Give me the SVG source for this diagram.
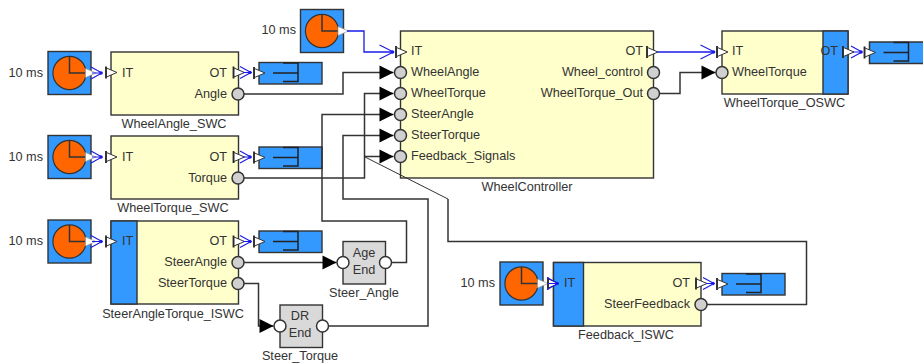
<svg xmlns="http://www.w3.org/2000/svg" xmlns:xlink="http://www.w3.org/1999/xlink" width="923" height="363" viewBox="0 0 923 363">
<style>
text{font-family:"Liberation Sans",Arial,sans-serif;font-size:12.700px;fill:#333}
.e{text-anchor:end}.m{text-anchor:middle}
.box{fill:#ffffcc;stroke:#333;stroke-width:1.4}
.band{fill:#3399ff;stroke:#333;stroke-width:1.4}
.gray{fill:#d9d9d9;stroke:#333;stroke-width:1.4}
.w{fill:none;stroke:#333;stroke-width:1.5}
.thin{fill:none;stroke:#333;stroke-width:1}
.b{fill:none;stroke:#1a1ae6;stroke-width:1.3}
.bs{fill:none;stroke:#1a1ae6;stroke-width:1}
</style>
<defs>
<marker id="head" markerUnits="userSpaceOnUse" markerWidth="15" markerHeight="15" refX="14" refY="7" orient="auto" overflow="visible"><path d="M0,0L14,7L0,14z" fill="#000"/></marker>
<marker id="chev" markerUnits="userSpaceOnUse" markerWidth="15" markerHeight="15" refX="14" refY="7" orient="auto" overflow="visible"><path d="M0,0L14,7L0,14" fill="none" stroke="#1a1ae6" stroke-width="1.1"/><circle cx="13" cy="7" r="1.7" fill="#1a1ae6"/></marker>
<marker id="chevs" markerUnits="userSpaceOnUse" markerWidth="12" markerHeight="13" refX="11" refY="6" orient="auto" overflow="visible"><path d="M0,0L11,6L0,12" fill="none" stroke="#1a1ae6" stroke-width="1.1"/><circle cx="10" cy="6" r="1.7" fill="#1a1ae6"/></marker>
<g id="pin"><path d="M-5,-6V6" stroke="#222" stroke-width="1.8"/><path d="M-4.500,-4.500L6,0L-4.500,4.500z" fill="#fff" stroke="#333" stroke-width="1"/></g>
<path id="tri" d="M-5,-4.500L5.500,0L-5,4.500z" fill="#fff" stroke="#999" stroke-width=".7"/>
<circle id="port" r="6" fill="#d0d0d0" stroke="#333" stroke-width="1.500"/>
<circle id="wport" r="6" fill="#fff" stroke="#333" stroke-width="1.500"/>
<g id="clock">
<rect x="-21.500" y="-21.500" width="43" height="43" class="band"/>
<circle r="16.600" fill="#ff6600" stroke="#333" stroke-width="1.200"/>
<path d="M0,-16.500V0H16.500" class="w"/>
<use xlink:href="#tri" x="21" y="0"/>
</g>
<path id="stub" d="M14,0H39M24,-10H39V8.500H24" fill="none" stroke="#222" stroke-width="1.500"/>
<g id="sender">
<rect x="0" y="-10.500" width="63" height="21.500" class="band"/>
<use xlink:href="#stub"/>
<use xlink:href="#pin" x="0" y="0"/>
</g>
</defs>

<g id="n_clock1"><use xlink:href="#clock" x="69.500" y="73"/><text class="e" x="43" y="77">10 ms</text></g>
<g id="n_clock2"><use xlink:href="#clock" x="69.500" y="157"/><text class="e" x="43" y="161">10 ms</text></g>
<g id="n_clock3"><use xlink:href="#clock" x="69.500" y="241.500"/><text class="e" x="43" y="245">10 ms</text></g>
<g id="n_clock4"><use xlink:href="#clock" x="322" y="31"/><text class="e" x="296" y="34">10 ms</text></g>
<g id="n_clock5"><use xlink:href="#clock" x="521.500" y="283.500"/><text class="e" x="495" y="287">10 ms</text></g>

<g id="n_sender1"><use xlink:href="#sender" x="259" y="73"/></g>
<g id="n_sender2"><use xlink:href="#sender" x="259" y="157.500"/></g>
<g id="n_sender3"><use xlink:href="#sender" x="259" y="241.500"/></g>
<g id="n_sender4"><use xlink:href="#sender" x="722" y="284"/></g>
<g id="n_sender5">
<rect x="869" y="42" width="54" height="21.500" fill="#3399ff"/>
<path d="M923,42H869.500V63.500H923" class="w"/>
<use xlink:href="#stub" x="869.500" y="52.500"/>
<use xlink:href="#pin" x="869.500" y="52.500"/>
</g>

<g id="WheelAngle_SWC">
<rect x="111" y="52" width="127.500" height="63" class="box"/>
<use xlink:href="#pin" x="111" y="72.500"/><use xlink:href="#pin" x="238.500" y="72.500"/><use xlink:href="#port" x="238" y="94"/>
<text x="122" y="77">IT</text><text class="e" x="227" y="77">OT</text><text class="e" x="227" y="98">Angle</text>
<text class="m" x="174" y="128">WheelAngle_SWC</text>
</g>
<g id="WheelTorque_SWC">
<rect x="111" y="136" width="127.500" height="63" class="box"/>
<use xlink:href="#pin" x="111" y="157"/><use xlink:href="#pin" x="238.500" y="157"/><use xlink:href="#port" x="238" y="178"/>
<text x="122" y="161">IT</text><text class="e" x="227" y="161">OT</text><text class="e" x="227" y="182">Torque</text>
<text class="m" x="173" y="212">WheelTorque_SWC</text>
</g>
<g id="SteerAngleTorque_ISWC">
<rect x="111" y="221" width="127.500" height="83" class="box"/>
<rect x="111" y="221" width="26" height="83" class="band"/>
<use xlink:href="#pin" x="111" y="241.500"/><use xlink:href="#pin" x="238.500" y="241.500"/><use xlink:href="#port" x="238" y="262.500"/><use xlink:href="#port" x="238" y="283.500"/>
<text x="122" y="245">IT</text><text class="e" x="227" y="245">OT</text><text class="e" x="227" y="266">SteerAngle</text><text class="e" x="227" y="287">SteerTorque</text>
<text class="m" x="173" y="318">SteerAngleTorque_ISWC</text>
</g>
<g id="Steer_Angle">
<rect x="343" y="241.500" width="42.500" height="42.500" class="gray"/>
<use xlink:href="#wport" x="343" y="262.500"/><use xlink:href="#wport" x="385.500" y="262.500"/>
<text class="m" x="364" y="257">Age</text><text class="m" x="364" y="274">End</text>
<text class="m" x="364" y="297">Steer_Angle</text>
</g>
<g id="Steer_Torque">
<rect x="280" y="305" width="42.500" height="42.500" class="gray"/>
<use xlink:href="#wport" x="280" y="326"/><use xlink:href="#wport" x="322.500" y="326"/>
<text class="m" x="300" y="320">DR</text><text class="m" x="300" y="337">End</text>
<text class="m" x="300" y="360">Steer_Torque</text>
</g>
<g id="WheelController">
<rect x="400.500" y="31" width="253" height="147" class="box"/>
<use xlink:href="#pin" x="401" y="52"/><use xlink:href="#port" x="400.500" y="72.500"/><use xlink:href="#port" x="400.500" y="93.500"/><use xlink:href="#port" x="400.500" y="114.500"/><use xlink:href="#port" x="400.500" y="135.500"/><use xlink:href="#port" x="400.500" y="156.500"/>
<use xlink:href="#pin" x="652" y="52"/><use xlink:href="#port" x="653.500" y="72.500"/><use xlink:href="#port" x="653.500" y="93.500"/>
<text x="411" y="55">IT</text><text x="411" y="76">WheelAngle</text><text x="411" y="97">WheelTorque</text><text x="411" y="118">SteerAngle</text><text x="411" y="139">SteerTorque</text><text x="411" y="160">Feedback_Signals</text>
<text class="e" x="643" y="55">OT</text><text class="e" x="643" y="76">Wheel_control</text><text class="e" x="643" y="97">WheelTorque_Out</text>
<text class="m" x="527" y="191">WheelController</text>
</g>
<g id="WheelTorque_OSWC">
<rect x="722" y="31" width="126" height="63" class="box"/>
<rect x="823" y="31" width="25" height="63" class="band"/>
<use xlink:href="#pin" x="722" y="52"/><use xlink:href="#port" x="722" y="72.500"/><use xlink:href="#pin" x="848" y="52"/>
<text x="732" y="55">IT</text><text x="732" y="76">WheelTorque</text><text class="e" x="838" y="55">OT</text>
<text class="m" x="784.500" y="107">WheelTorque_OSWC</text>
</g>
<g id="Feedback_ISWC">
<rect x="553.500" y="262.500" width="147.500" height="63.500" class="box"/>
<rect x="553.500" y="262.500" width="30" height="63.500" class="band"/>
<use xlink:href="#pin" x="553" y="283.500"/><use xlink:href="#pin" x="701" y="283.500"/><use xlink:href="#port" x="701" y="304.500"/>
<text x="564" y="287">IT</text><text class="e" x="690" y="287">OT</text><text class="e" x="690" y="308">SteerFeedback</text>
<text class="m" x="626" y="339">Feedback_ISWC</text>
</g>

<g id="connectors">
<path class="w" marker-end="url(#head)" d="M244,94H343V72.500H393.500"/>
<path class="w" marker-end="url(#head)" d="M244,178H364.500V93.500H393.500"/>
<path class="w" marker-end="url(#head)" d="M364.500,156.500H393.500"/>
<path class="w" marker-end="url(#head)" d="M391.500,262.500H406.500V221H322V114.500H393.500"/>
<path class="w" marker-end="url(#head)" d="M328.500,326H428V199H343V135.500H393.500"/>
<path class="w" marker-end="url(#head)" d="M244,262.500H336.500"/>
<path class="w" marker-end="url(#head)" d="M244,283.500H258.500V326H273.500"/>
<path class="w" marker-end="url(#head)" d="M659.500,93.500H680V72.500H715.500"/>
<path class="thin" d="M365,157L448,199"/>
<path class="w" d="M448,199V241.500H806.500V304.500H707"/>
<path class="b" marker-end="url(#chev)" d="M347,31H364V52H393.500"/>
<path class="b" marker-end="url(#chev)" d="M657.500,52H714.500"/>
<path class="bs" marker-end="url(#chevs)" d="M92,73H102"/>
<path class="bs" marker-end="url(#chevs)" d="M92,157H102"/>
<path class="bs" marker-end="url(#chevs)" d="M92,241.500H102"/>
<path class="bs" marker-end="url(#chevs)" d="M243,72.500H251"/>
<path class="bs" marker-end="url(#chevs)" d="M243,157H251"/>
<path class="bs" marker-end="url(#chevs)" d="M243,241.500H251"/>
<path class="bs" marker-end="url(#chevs)" d="M706,283.500H714"/>
<path class="bs" marker-end="url(#chevs)" d="M853,52H862"/>
<path class="bs" marker-end="url(#chevs)" d="M548,283.500H558"/>
</g>
</svg>
